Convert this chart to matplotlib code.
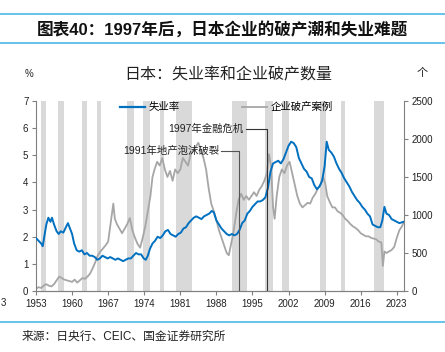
import matplotlib
matplotlib.use('Agg')
import matplotlib.pyplot as plt
from matplotlib.lines import Line2D

plt.rcParams['font.family'] = ['Liberation Sans', 'Noto Sans CJK SC']
plt.rcParams['axes.unicode_minus'] = False

# Unemployment rate (%), left axis
unemp_years = [1953.0, 1953.5, 1954.0, 1954.3, 1954.7, 1955.0, 1955.4, 1955.8, 1956.1, 1956.5,
               1957.0, 1957.4, 1957.8, 1958.3, 1958.8, 1959.2, 1959.6, 1960.0, 1960.4, 1960.9,
               1961.4, 1961.9, 1962.4, 1962.9, 1963.4, 1963.9, 1964.4, 1964.9, 1965.4, 1965.9,
               1966.4, 1966.9, 1967.4, 1967.9, 1968.4, 1968.9, 1969.4, 1969.9, 1970.4, 1970.9,
               1971.4, 1971.9, 1972.4, 1972.9, 1973.4, 1973.9, 1974.3, 1974.7, 1975.1, 1975.6,
               1976.1, 1976.6, 1977.1, 1977.6, 1978.1, 1978.6, 1979.1, 1979.6, 1980.1, 1980.6,
               1981.1, 1981.6, 1982.1, 1982.6, 1983.1, 1983.6, 1984.1, 1984.6, 1985.1, 1985.6,
               1986.1, 1986.6, 1987.1, 1987.5, 1988.0, 1988.5, 1989.0, 1989.5, 1990.0, 1990.5,
               1991.0, 1991.5, 1992.0, 1992.5, 1993.0, 1993.5, 1994.0, 1994.5, 1995.0, 1995.5,
               1996.0, 1996.5, 1997.0, 1997.5, 1998.0, 1998.5, 1999.0, 1999.5, 2000.0, 2000.5,
               2001.0, 2001.5, 2002.0, 2002.5, 2003.0, 2003.5, 2004.0, 2004.5, 2005.0, 2005.5,
               2006.0, 2006.5, 2007.0, 2007.5, 2008.0, 2008.5, 2009.0, 2009.4, 2009.8, 2010.3,
               2010.8, 2011.3, 2011.8, 2012.3, 2012.8, 2013.3, 2013.8, 2014.3, 2014.8, 2015.3,
               2015.8, 2016.3, 2016.8, 2017.3, 2017.8, 2018.3, 2018.8, 2019.3, 2019.8, 2020.2,
               2020.6, 2021.0, 2021.5, 2022.0, 2022.5, 2023.0, 2023.5, 2024.3]
unemp_rate = [1.95, 1.85, 1.75, 1.65, 2.1, 2.45, 2.7, 2.55, 2.7, 2.45,
              2.2, 2.1, 2.2, 2.15, 2.35, 2.5, 2.3, 2.1, 1.75, 1.5,
              1.45, 1.5, 1.35, 1.4, 1.3, 1.3, 1.25, 1.15, 1.2, 1.3,
              1.25, 1.2, 1.25, 1.2, 1.15, 1.2, 1.15, 1.1, 1.15, 1.2,
              1.2, 1.3, 1.4, 1.35, 1.35, 1.2, 1.15, 1.3, 1.55, 1.75,
              1.85, 2.0, 1.95, 2.05, 2.2, 2.25, 2.1, 2.05, 2.0, 2.1,
              2.15, 2.3, 2.35, 2.5, 2.6, 2.7, 2.75, 2.7, 2.65, 2.75,
              2.8, 2.85, 2.95, 2.9, 2.6, 2.45, 2.3, 2.2, 2.1, 2.05,
              2.1, 2.05, 2.1, 2.25, 2.5, 2.6, 2.85, 2.95, 3.1, 3.2,
              3.3, 3.3, 3.35, 3.45, 3.8, 4.4, 4.7, 4.75, 4.8, 4.7,
              4.85, 5.1, 5.35, 5.5, 5.45, 5.3, 4.9, 4.7, 4.5, 4.4,
              4.2, 4.15, 3.9, 3.75, 3.85, 4.05, 4.6, 5.5, 5.2, 5.1,
              4.95, 4.7, 4.5, 4.35, 4.15, 4.0, 3.85, 3.65, 3.5, 3.35,
              3.25, 3.1, 3.0, 2.85, 2.75, 2.45, 2.4, 2.35, 2.35, 2.6,
              3.1, 2.85, 2.8, 2.65, 2.6, 2.55, 2.5, 2.55]

# Corporate bankruptcies (cases), right axis
bank_years = [1953.0, 1953.5, 1954.0, 1954.5, 1955.0, 1955.5, 1956.0, 1956.5, 1957.0, 1957.5,
              1958.0, 1958.5, 1959.0, 1959.5, 1960.0, 1960.5, 1961.0, 1961.5, 1962.0, 1962.5,
              1963.0, 1963.5, 1964.0, 1964.5, 1965.0, 1965.5, 1966.0, 1966.5, 1967.0, 1967.5,
              1968.0, 1968.3, 1968.7, 1969.2, 1969.7, 1970.2, 1970.7, 1971.2, 1971.7, 1972.2,
              1972.7, 1973.2, 1973.7, 1974.2, 1974.7, 1975.2, 1975.6, 1976.0, 1976.5, 1977.0,
              1977.5, 1978.0, 1978.5, 1979.0, 1979.5, 1980.0, 1980.5, 1981.0, 1981.5, 1982.0,
              1982.5, 1983.0, 1983.5, 1984.0, 1984.5, 1985.0, 1985.5, 1986.0, 1986.5, 1987.0,
              1987.5, 1988.0, 1988.5, 1989.0, 1989.5, 1990.0, 1990.4, 1990.8, 1991.3, 1991.8,
              1992.3, 1992.8, 1993.3, 1993.8, 1994.3, 1994.8, 1995.3, 1995.8, 1996.3, 1996.8,
              1997.3, 1997.8, 1998.2, 1998.6, 1999.0, 1999.3, 1999.7, 2000.2, 2000.7, 2001.2,
              2001.7, 2002.2, 2002.7, 2003.2, 2003.7, 2004.2, 2004.7, 2005.2, 2005.7, 2006.2,
              2006.7, 2007.2, 2007.7, 2008.2, 2008.7, 2009.1, 2009.5, 2010.0, 2010.5, 2011.0,
              2011.5, 2012.0, 2012.5, 2013.0, 2013.5, 2014.0, 2014.5, 2015.0, 2015.5, 2016.0,
              2016.5, 2017.0, 2017.5, 2018.0, 2018.5, 2019.0, 2019.5, 2020.0, 2020.3, 2020.6,
              2021.0, 2021.5, 2022.0, 2022.5, 2023.0, 2023.5, 2024.0, 2024.3]
bank_cases = [30, 50, 40, 70, 90, 70, 60, 90, 140, 190,
              170, 150, 140, 130, 120, 150, 110, 140, 170, 160,
              190, 230, 300, 380, 470, 520, 560, 600, 650, 900,
              1150, 950, 880, 820, 760, 820, 880, 960, 800, 700,
              620, 570, 700, 850, 1050, 1250, 1500, 1600, 1700, 1650,
              1750, 1600, 1500, 1580, 1450, 1600, 1550, 1600, 1750, 1700,
              1650, 1800, 1850, 1900, 1950, 1850, 1750, 1600, 1350, 1150,
              1050, 930, 800, 700, 600, 500, 470, 600, 770, 1000,
              1200, 1280, 1200, 1250, 1200, 1250, 1300, 1250, 1330, 1380,
              1450, 1550, 1800, 1650, 1100, 950, 1250, 1500, 1600, 1550,
              1650, 1700, 1550, 1400, 1250, 1150, 1100, 1130, 1160, 1150,
              1230, 1280, 1350, 1400, 1500, 1420, 1250, 1170, 1100, 1100,
              1050, 1030, 1000, 950, 920, 880, 850, 830, 800, 760,
              740, 720, 720, 700, 690, 680, 650, 640, 330, 520,
              500, 520, 540, 580, 700, 800, 850, 900]

# Recession periods (shaded)
recessions = [(1953.9, 1954.9), (1957.3, 1958.4), (1961.9, 1962.8), (1964.8, 1965.7),
              (1970.6, 1972.1), (1973.8, 1975.2), (1977.0, 1977.9), (1980.1, 1983.2),
              (1991.1, 1993.9), (1997.4, 1999.0), (2000.7, 2002.1), (2008.1, 2009.2),
              (2012.1, 2012.9), (2018.6, 2020.5)]

x_ticks = [1953, 1960, 1967, 1974, 1981, 1988, 1995, 2002, 2009, 2016, 2023]
left_ticks = [0, 1, 2, 3, 4, 5, 6, 7]
right_ticks = [0, 500, 1000, 1500, 2000, 2500]

blue = '#0070C0'
grey = '#A6A6A6'
shade = '#D9D9D9'
sep = '#4DB8E8'
axis_col = '#808080'

fig = plt.figure(figsize=(4.45, 3.52), dpi=100)
ax = fig.add_axes([36 / 445, 1 - 291 / 352, 368 / 445, 190 / 352])
ax2 = ax.twinx()

for (a, b) in recessions:
    ax2.axvspan(a, b, color=shade, lw=0, zorder=0)
ax2.plot(bank_years, bank_cases, color=grey, lw=1.3, zorder=2)
ax.plot(unemp_years, unemp_rate, color=blue, lw=1.4, zorder=3)

ax.set_zorder(ax2.get_zorder() + 1)
ax.patch.set_visible(False)

ax.set_xlim(1953, 2024.4)
ax.set_ylim(0, 7)
ax2.set_ylim(0, 2500)
ax.set_xticks(x_ticks)
ax.set_yticks(left_ticks)
ax2.set_yticks(right_ticks)

for a in (ax, ax2):
    a.spines['top'].set_visible(False)
    for s in ('left', 'right', 'bottom'):
        a.spines[s].set_color(axis_col)
        a.spines[s].set_linewidth(0.8)
    a.tick_params(direction='out', length=3, width=0.8, color=axis_col,
                  labelsize=7, labelcolor='#222222', pad=2.5)
ax.spines['right'].set_visible(False)
ax2.spines['left'].set_visible(False)

# annotation leaders
ax.plot([1993.7, 1997.8, 1997.8], [5.97, 5.97, 0], color='#333333', lw=0.8, zorder=4)
ax.plot([1988.9, 1992.3, 1992.3], [5.15, 5.15, 0], color='#555555', lw=0.8, zorder=4)
ax.text(1993.3, 5.97, '1997年金融危机', fontsize=7.5, ha='right', va='center', color='#222222')
ax.text(1988.5, 5.15, '1991年地产泡沫破裂', fontsize=7.5, ha='right', va='center', color='#222222')

handles = [Line2D([0], [0], color=blue, lw=1.6), Line2D([0], [0], color=grey, lw=1.3)]
ax.legend(handles, ['失业率', '企业破产案例'], ncol=2, loc='center left',
          bbox_to_anchor=(0.215, 0.968), frameon=False, fontsize=7.5,
          handlelength=2.4, handletextpad=0.3, columnspacing=6.0, borderpad=0)

fig.text(228 / 445, 1 - 75 / 352, '日本：失业率和企业破产数量', fontsize=11.5,
         ha='center', va='center', color='#222222')
fig.text(29 / 445, 1 - 74 / 352, '%', fontsize=7, ha='center', va='center', color='#222222')
fig.text(422 / 445, 1 - 73 / 352, '个', fontsize=8, ha='center', va='center', color='#222222')

# header and footer
fig.add_artist(Line2D([0, 1], [1 - 14 / 352, 1 - 14 / 352], color=sep, lw=1.2))
fig.add_artist(Line2D([0, 1], [1 - 43 / 352, 1 - 43 / 352], color=sep, lw=1.2))
fig.add_artist(Line2D([0, 1], [1 - 322 / 352, 1 - 322 / 352], color=sep, lw=1.2))
fig.text(222 / 445, 1 - 29 / 352, '图表40：1997年后，日本企业的破产潮和失业难题',
         fontsize=12, fontweight='bold', ha='center', va='center', color='#111111')
fig.text(22 / 445, 1 - 337 / 352, '来源：日央行、CEIC、国金证券研究所',
         fontsize=8.5, ha='left', va='center', color='#222222')
fig.text(0.002, 1 - 303 / 352, '3', fontsize=7, ha='left', va='center', color='#222222')

fig.savefig('out.png', dpi=100)
